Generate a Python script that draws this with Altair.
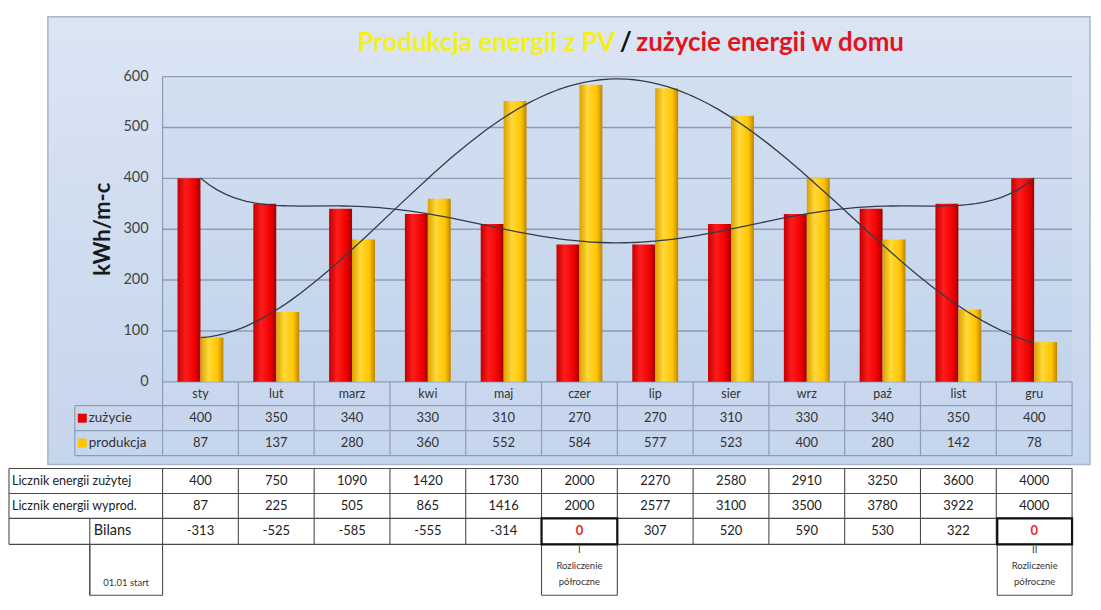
import altair as alt
import pandas as pd

# ---------------- data ----------------
months = ["sty", "lut", "marz", "kwi", "maj", "czer", "lip", "sier", "wrz", "paź", "list", "gru"]
zuzycie = [400, 350, 340, 330, 310, 270, 270, 310, 330, 340, 350, 400]
produkcja = [87, 137, 280, 360, 552, 584, 577, 523, 400, 280, 142, 78]
licznik_zuzytej = [400, 750, 1090, 1420, 1730, 2000, 2270, 2580, 2910, 3250, 3600, 4000]
licznik_wyprod = [87, 225, 505, 865, 1416, 2000, 2577, 3100, 3500, 3780, 3922, 4000]
bilans = [-313, -525, -585, -555, -314, 0, 307, 520, 590, 530, 322, 0]
y_ticks = [0, 100, 200, 300, 400, 500, 600]

title_left = "Produkcja energii z PV"
title_sep = "/"
title_right = "zużycie energii w domu"
y_title = "kWh/m-c"
row_labels_inner = ["zużycie", "produkcja"]
row_labels_outer = ["Licznik energii zużytej", "Licznik energii wyprod.", "Bilans"]
note_start = "01.01 start"
note_mid = ["I", "Rozliczenie", "półroczne"]
note_end = ["II", "Rozliczenie", "półroczne"]

# ---------------- layout (page pixels) ----------------
W, H = 1088, 594
PLOT_L, PLOT_R, COL_W = 163, 1075, 76
Y_ZERO, PX_PER_UNIT = 382, 0.51
BAR_W = 23 / COL_W
FONT = "Lato"


def X(p):
    return (p - (PLOT_L + COL_W / 2)) / COL_W + 1


def V(p):
    return (Y_ZERO - p) / PX_PER_UNIT


xs = alt.Scale(domain=[X(8), X(8 + W)], nice=False, zero=False)
ys = alt.Scale(domain=[V(8 + H), V(8)], nice=False, zero=False)


def enc_rect(ch):
    return ch.encode(
        x=alt.X("x1:Q", scale=xs, axis=None), x2="x2:Q",
        y=alt.Y("y1:Q", scale=ys, axis=None), y2="y2:Q")


def segs(lines, color, width):
    df = pd.DataFrame(lines, columns=["x1", "x2", "y1", "y2"])
    return enc_rect(alt.Chart(df).mark_rule(color=color, strokeWidth=width))


def texts(rows, **kw):
    df = pd.DataFrame(rows, columns=["x", "y", "t"])
    return alt.Chart(df).mark_text(font=FONT, **kw).encode(
        x=alt.X("x:Q", scale=xs, axis=None),
        y=alt.Y("y:Q", scale=ys, axis=None),
        text="t:N")


def vgrad(c0, c1):
    return alt.LinearGradient(gradient="linear", x1=0, x2=0, y1=0, y2=1,
                              stops=[alt.GradientStop(color=c0, offset=0),
                                     alt.GradientStop(color=c1, offset=1)])


def hgrad(cs):
    return alt.LinearGradient(gradient="linear", x1=0, x2=1, y1=0, y2=0,
                              stops=[alt.GradientStop(color=c, offset=o) for c, o in cs])


layers = []

# panel and plot area backgrounds
panel = pd.DataFrame([[X(48), X(1093), V(16), V(465)]], columns=["x1", "x2", "y1", "y2"])
layers.append(enc_rect(alt.Chart(panel).mark_rect(
    fill=vgrad("#dbe5f4", "#c5d5ec"), stroke="#aab6c6", strokeWidth=1.5)))
plotbg = pd.DataFrame([[X(PLOT_L), X(PLOT_R), V(76), V(Y_ZERO)]], columns=["x1", "x2", "y1", "y2"])
layers.append(enc_rect(alt.Chart(plotbg).mark_rect(fill=vgrad("#d2dff1", "#c3d4eb"))))

# gridlines from tick values
grid = pd.DataFrame({"x1": X(PLOT_L), "x2": X(PLOT_R), "y1": y_ticks[1:], "y2": y_ticks[1:]})
layers.append(enc_rect(alt.Chart(grid).mark_rule(color="#8d9db3", strokeWidth=1.4)))

# inner table grid
inner = [(X(PLOT_L), X(PLOT_R), V(382), V(382)),
         (X(75), X(PLOT_R), V(406), V(406)),
         (X(75), X(PLOT_R), V(431), V(431)),
         (X(75), X(PLOT_R), V(456), V(456)),
         (X(75), X(75), V(406), V(456)),
         (X(PLOT_L), X(PLOT_L), V(76), V(382))]
for k in range(13):
    xp = X(PLOT_L + COL_W * k)
    inner.append((xp, xp, V(382), V(456)))
layers.append(segs(inner, "#8d9db3", 1.2))

# y tick labels and title
layers.append(texts([(X(149), v, str(v)) for v in y_ticks], align="right", baseline="middle",
                    fontSize=14.5, color="#454545"))
layers.append(texts([(X(103), V(229), y_title)], angle=270, align="center", baseline="middle",
                    fontSize=22, fontWeight="bold", color="#1a1a1a"))

# chart title
layers.append(texts([(X(617), V(42), title_left)], align="right", baseline="middle",
                    fontSize=26, fontWeight="bold", color="#f2f01e"))
layers.append(texts([(X(627.5), V(42), title_sep)], align="center", baseline="middle",
                    fontSize=26, fontWeight="bold", color="#111111"))
layers.append(texts([(X(638), V(42), title_right)], align="left", baseline="middle",
                    fontSize=26, fontWeight="bold", color="#e3141c"))

# bars
idx = list(range(1, 13))
bars = pd.DataFrame({"i": idx, "zuz": zuzycie, "prod": produkcja})
red = hgrad([("#c20000", 0), ("#ff1c1c", 0.35), ("#f00000", 0.75), ("#a00000", 1)])
yel = hgrad([("#dca000", 0), ("#ffd83a", 0.35), ("#ffc600", 0.75), ("#c08400", 1)])
layers.append(alt.Chart(bars).transform_calculate(a=f"datum.i - {BAR_W}", z="0").mark_rect(fill=red).encode(
    x=alt.X("a:Q", scale=xs, axis=None), x2="i:Q",
    y=alt.Y("zuz:Q", scale=ys, axis=None), y2="z:Q"))
layers.append(alt.Chart(bars).transform_calculate(b=f"datum.i + {BAR_W}", z="0").mark_rect(fill=yel).encode(
    x=alt.X("i:Q", scale=xs, axis=None), x2="b:Q",
    y=alt.Y("prod:Q", scale=ys, axis=None), y2="z:Q"))

# polynomial trend lines (as in the spreadsheet)
for col in ["zuz", "prod"]:
    layers.append(alt.Chart(bars).transform_regression(
        "i", col, method="poly", order=6, extent=[1, 12]).mark_line(
        color="#333c4a", strokeWidth=1.3).encode(
        x=alt.X("i:Q", scale=xs, axis=None), y=alt.Y(f"{col}:Q", scale=ys, axis=None)))

# inner table texts
layers.append(texts([(i, V(394.5), m) for i, m in zip(idx, months)], align="center", baseline="middle",
                    fontSize=12.5, color="#333333"))
layers.append(texts([(i, V(418.5), str(v)) for i, v in zip(idx, zuzycie)], align="center", baseline="middle",
                    fontSize=13, color="#333333"))
layers.append(texts([(i, V(443.5), str(v)) for i, v in zip(idx, produkcja)], align="center", baseline="middle",
                    fontSize=13, color="#333333"))
layers.append(texts([(X(89), V(418.5), row_labels_inner[0]), (X(89), V(443.5), row_labels_inner[1])],
                    align="left", baseline="middle", fontSize=13.5, color="#333333"))
leg = pd.DataFrame([[X(78), X(87), V(414), V(423), "r"], [X(78), X(87), V(439), V(448), "y"]],
                   columns=["x1", "x2", "y1", "y2", "c"])
layers.append(enc_rect(alt.Chart(leg).mark_rect()).encode(
    color=alt.Color("c:N", scale=alt.Scale(domain=["r", "y"], range=["#e80000", "#ffc400"]), legend=None)))

# outer table
outer = [(X(9), X(PLOT_R), V(p), V(p)) for p in (469, 494, 519, 545)]
outer += [(X(9), X(9), V(469), V(545)), (X(90), X(90), V(519), V(596))]
for k in range(13):
    xp = X(PLOT_L + COL_W * k)
    outer.append((xp, xp, V(469), V(545)))
for a, b in [(90, 163), (543, 619), (1000, 1075)]:
    outer += [(X(a), X(a), V(545), V(596)), (X(b), X(b), V(545), V(596)), (X(a), X(b), V(596), V(596))]
layers.append(segs(outer, "#4a4a4a", 1.1))
bold = pd.DataFrame([[X(543), X(619), V(519), V(545)], [X(1000), X(1075), V(519), V(545)]],
                    columns=["x1", "x2", "y1", "y2"])
layers.append(enc_rect(alt.Chart(bold).mark_rect(fillOpacity=0, stroke="#111111", strokeWidth=2.2)))

layers.append(texts([(X(12), V(481.5), row_labels_outer[0]), (X(12), V(506.5), row_labels_outer[1])],
                    align="left", baseline="middle", fontSize=12.5, color="#222222"))
layers.append(texts([(X(94), V(532), row_labels_outer[2])], align="left", baseline="middle",
                    fontSize=14.5, color="#222222"))
layers.append(texts([(i, V(481.5), str(v)) for i, v in zip(idx, licznik_zuzytej)], align="center",
                    baseline="middle", fontSize=13, color="#222222"))
layers.append(texts([(i, V(506.5), str(v)) for i, v in zip(idx, licznik_wyprod)], align="center",
                    baseline="middle", fontSize=13, color="#222222"))
layers.append(texts([(i, V(532), str(v)) for i, v in zip(idx, bilans) if v != 0], align="center",
                    baseline="middle", fontSize=13, color="#222222"))
layers.append(texts([(i, V(532), str(v)) for i, v in zip(idx, bilans) if v == 0], align="center",
                    baseline="middle", fontSize=13, fontWeight="bold", color="#e8262b"))

notes = [(X(126.5), V(584), note_start)]
for cx, lines in [(X(581), note_mid), (X(1037.5), note_end)]:
    for t, yp in zip(lines, (551, 567, 583)):
        notes.append((cx, V(yp), t))
layers.append(texts(notes, align="center", baseline="middle", fontSize=9.5, color="#333333"))

chart = alt.layer(*layers).properties(
    width=W, height=H, padding=0, autosize=alt.AutoSizeParams(type="none"),
    background="white").configure_view(stroke=None)

chart.save("out.html", embed_options={"renderer": "svg", "actions": False})
